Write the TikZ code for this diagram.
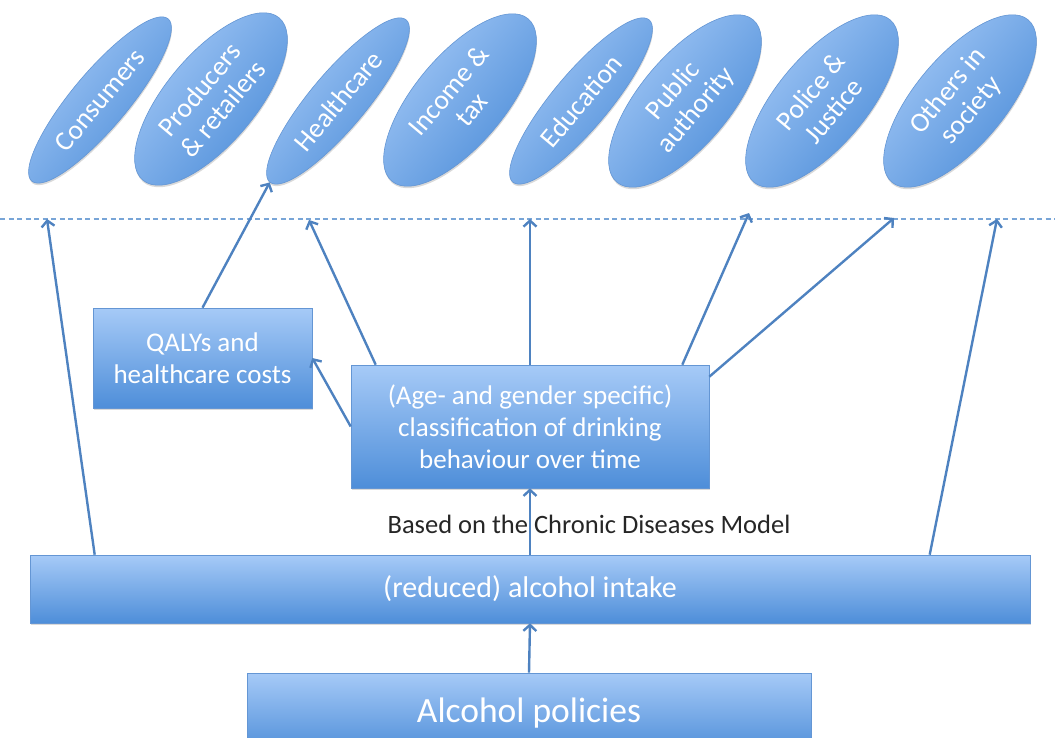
\documentclass[tikz,border=0pt]{standalone}
\usepackage{fontspec}
\setmainfont{Carlito}
\usetikzlibrary{shapes.geometric,arrows.meta,shadows,calc}
\definecolor{lb}{RGB}{166,202,247}
\definecolor{db}{RGB}{78,142,217}
\definecolor{edgeblue}{RGB}{100,150,212}
\definecolor{arrblue}{RGB}{78,130,192}
\definecolor{dashblue}{RGB}{120,165,215}
\begin{document}
\begin{tikzpicture}[x=1pt,y=-1pt,
  shade/.style={drop shadow={shadow xshift=0.5pt,shadow yshift=-2pt,opacity=0.25,fill=black!60}},
  blob/.style={ellipse, draw=edgeblue, line width=0.6pt, top color=lb, bottom color=db,
    shading angle=50,
    rotate=50, minimum width=212pt, inner sep=0pt, text=white, align=center,
    font=\fontsize{27.5}{30}\selectfont, shade},
  thinblob/.style={blob, minimum height=56pt},
  wideblob/.style={blob, minimum height=90pt},
  box/.style={rectangle, draw=edgeblue, line width=0.6pt, top color=lb, bottom color=db,
    inner sep=0pt, text=white, align=center, shade},
  arrow/.style={draw=arrblue, line width=2.4pt, -{Straight Barb[length=6pt,width=13pt]}}
]
\useasboundingbox (0,0) rectangle (1055,738);
\clip (0,0) rectangle (1055,738);

% stakeholder ellipses
\node[thinblob] (cons) at (100,100) {Consumers};
\node[wideblob] (prod) at (211,99) {Producers\\\& retailers};
\node[thinblob] (hc)   at (338,101) {Healthcare};
\node[wideblob] (inc)  at (460,100) {Income \&\\tax};
\node[thinblob] (edu)  at (581,101) {Education};
\node[wideblob] (pub)  at (685,101) {Public\\authority};
\node[wideblob] (pol)  at (822,101) {Police \&\\Justice};
\node[wideblob] (oth)  at (960,101) {Others in\\society};

% dashed separator
\coordinate (dl) at (0,219);
\coordinate (dr) at (1055,219);
\draw[dashblue, line width=1.3pt, dash pattern=on 5pt off 3.5pt] (dl) -- (dr);

% boxes
\node[box, minimum width=219pt, minimum height=100pt, font=\fontsize{27}{32}\selectfont]
  (qaly) at (202.5,358) {QALYs and\\healthcare costs};
\node[box, minimum width=358pt, minimum height=123pt, font=\fontsize{27}{32}\selectfont]
  (cls) at (530,426.5) {(Age- and gender specific)\\classification of drinking\\behaviour over time};
\node[box, minimum width=1000pt, minimum height=68pt, font=\fontsize{30}{34}\selectfont]
  (intake) at (530,589) {(reduced) alcohol intake};
\node[box, minimum width=564pt, minimum height=80pt, font=\fontsize{35.5}{40}\selectfont]
  (policy) at (529,713) {Alcohol policies};

\node[text=black!85, font=\fontsize{26.5}{30}\selectfont, inner sep=0pt] (cdm) at (589,524)
  {Based on the Chronic Diseases Model};

% arrow tips on the separator
\coordinate (t1) at (47,219);
\coordinate (t3) at (309,220);
\coordinate (t4) at (530,219);
\coordinate (t5) at (749,213);
\coordinate (t6) at (894,218);
\coordinate (t7) at (997,219);

% connectors
\draw[arrow] ($(intake.north west)+(65,0)$) -- (t1);
\draw[arrow] (qaly.north) -- (hc.west);
\draw[arrow] ($(cls.north west)+(25,0)$) -- (t3);
\draw[arrow] (cls.north) -- (t4);
\draw[arrow] ($(cls.north east)+(-27,0)$) -- (t5);
\draw[arrow] ($(cls.north east)+(0,12)$) -- (t6);
\draw[arrow] ($(intake.north west)+(900,0)$) -- (t7);
\draw[arrow] (cls.west) -- (qaly.east);
\draw[arrow] (intake.north) -- (cls.south);
\draw[arrow] (policy.north) -- (intake.south);
\end{tikzpicture}
\end{document}
